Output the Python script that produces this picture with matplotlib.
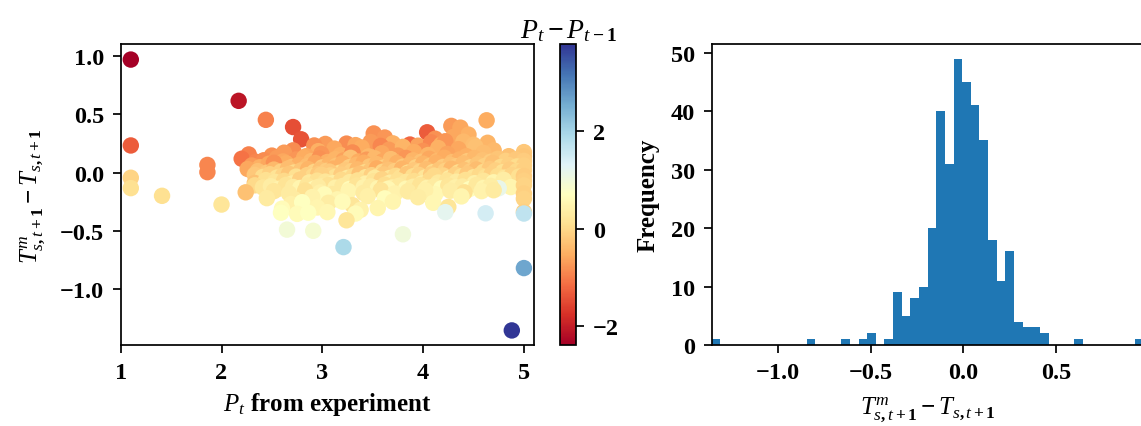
import numpy as np
import matplotlib.pyplot as plt

plt.rcParams['font.family'] = 'serif'
plt.rcParams['font.serif'] = ['Liberation Serif', 'DejaVu Serif']
plt.rcParams['font.weight'] = 'bold'
plt.rcParams['axes.labelweight'] = 'bold'
plt.rcParams['mathtext.fontset'] = 'custom'
plt.rcParams['mathtext.rm'] = 'Liberation Serif:weight=bold'
plt.rcParams['mathtext.it'] = 'Liberation Serif:style=italic:weight=normal'
plt.rcParams['mathtext.bf'] = 'Liberation Serif:weight=bold'

# P_t from experiment (one line per band of the error, top band first)
p_exp = [
    1.10,
    2.17,
    2.44, 4.63,
    2.71, 4.28, 4.37,
    4.04, 3.51, 4.45,
    2.79, 3.62, 4.12, 4.30,
    1.10, 3.24, 4.64, 3.87, 3.33, 3.48, 3.70, 3.95, 4.08, 4.18, 4.40, 4.50, 3.03, 2.92, 4.22, 3.58,
    2.71, 3.12, 3.39, 3.66, 3.80, 4.00, 4.15, 4.35, 4.52, 4.70, 2.96,
    2.27, 2.50, 2.62, 2.84, 2.99, 3.18, 3.30, 3.46, 3.59, 3.75, 3.91, 4.05, 4.24, 4.43, 4.60, 4.85, 5.00, 5.00,
    2.20, 2.34, 2.42, 2.55, 2.61, 2.74, 2.82, 2.89, 2.97, 3.05, 3.13, 3.21, 3.28, 3.36, 3.44, 3.52, 3.60, 3.68,
    3.76, 3.83, 3.90, 3.98, 4.06, 4.14, 4.21, 4.29, 4.36, 4.44, 4.51, 4.59, 4.67, 4.74, 4.82, 4.92, 5.00,
    1.86, 2.30, 2.38, 2.47, 2.56, 2.64, 2.70, 2.77, 2.85, 2.93, 3.00, 3.07, 3.14, 3.20, 3.27, 3.34, 3.41, 3.47,
    3.54, 3.61, 3.67, 3.74, 3.80, 3.87, 3.93, 4.00, 4.07, 4.13, 4.20, 4.27, 4.33, 4.40, 4.47, 4.54, 4.61, 4.69,
    4.77, 4.85, 4.93, 5.00, 2.52,
    1.86, 2.26, 2.36, 2.45, 2.52, 2.59, 2.66, 2.72, 2.79, 2.86, 2.92, 2.98, 3.04, 3.11, 3.17, 3.23, 3.29, 3.35,
    3.42, 3.48, 3.54, 3.60, 3.66, 3.72, 3.79, 3.85, 3.91, 3.97, 4.03, 4.10, 4.16, 4.22, 4.28, 4.35, 4.41, 4.47,
    4.53, 4.60, 4.66, 4.72, 4.79, 4.86, 4.93, 5.00, 3.07,
    1.10, 2.33, 2.41, 2.48, 2.55, 2.61, 2.67, 2.74, 2.80, 2.85, 2.91, 2.96, 3.02, 3.08, 3.13, 3.19, 3.25, 3.31,
    3.37, 3.43, 3.49, 3.55, 3.61, 3.67, 3.73, 3.78, 3.84, 3.90, 3.96, 4.02, 4.08, 4.14, 4.20, 4.26, 4.32, 4.38,
    4.44, 4.50, 4.56, 4.62, 4.68, 4.74, 4.81, 4.88, 4.95, 5.00, 3.52, 4.11, 2.99,
    2.33, 2.44, 2.53, 2.62, 2.70, 2.78, 2.87, 2.95, 3.03, 3.11, 3.19, 3.27, 3.35, 3.43, 3.51, 3.59, 3.67, 3.75,
    3.83, 3.91, 3.99, 4.07, 4.15, 4.24, 4.33, 4.42, 4.51, 4.60, 4.70, 4.80, 5.00,
    1.10, 4.87, 4.75, 2.33, 2.41, 2.49, 2.57, 2.64, 2.71, 2.78, 2.85, 2.92, 2.99, 3.06, 3.13, 3.20, 3.27, 3.34,
    3.41, 3.48, 3.55, 3.62, 3.69, 3.76, 3.83, 3.90, 3.97, 4.04, 4.11, 4.18, 4.25, 4.32, 4.39, 4.46, 4.53, 4.60,
    4.67, 5.00, 2.96, 3.65,
    2.24, 2.52, 2.67, 2.83, 2.98, 3.10, 3.26, 3.41, 3.58, 3.72, 3.85, 3.99, 4.12, 4.27, 4.41, 4.58, 4.70, 5.00,
    3.02, 4.02,
    1.41, 2.45, 2.90, 3.15, 3.45, 3.62, 3.95, 4.38, 5.00, 2.72,
    2.00, 2.69, 3.06, 3.30, 3.20, 3.70, 4.10, 2.80,
    2.60, 2.95, 3.38, 4.25, 3.55,
    2.59, 2.75, 2.86, 3.05, 3.33, 4.22, 5.00, 4.62, 5.00,
    3.24,
    2.65, 2.91,
    3.80,
    3.21,
    5.00,
    4.88,
]

# T^m_{s,t+1} - T_{s,t+1}
t_diff = [
    0.969,
    0.615,
    0.452, 0.448,
    0.390, 0.400, 0.385,
    0.345, 0.335, 0.325,
    0.285, 0.300, 0.290, 0.305,
    0.232, 0.248, 0.255, 0.240, 0.235, 0.262, 0.250, 0.230, 0.258, 0.240, 0.265, 0.238, 0.245, 0.232, 0.268, 0.228,
    0.190, 0.205, 0.215, 0.195, 0.220, 0.185, 0.210, 0.200, 0.220, 0.190, 0.183,
    0.155, 0.145, 0.170, 0.140, 0.160, 0.150, 0.172, 0.138, 0.165, 0.145, 0.175, 0.150, 0.160, 0.140, 0.168,
    0.140, 0.175, 0.138,
    0.118, 0.092, 0.105, 0.125, 0.095, 0.112, 0.128, 0.098, 0.120, 0.090, 0.115, 0.103, 0.126, 0.094, 0.110,
    0.122, 0.097, 0.115, 0.088, 0.125, 0.105, 0.092, 0.118, 0.100, 0.127, 0.090, 0.112, 0.098, 0.124, 0.106,
    0.092, 0.118, 0.100, 0.113, 0.100,
    0.065, 0.060, 0.045, 0.075, 0.052, 0.080, 0.048, 0.068, 0.056, 0.082, 0.044, 0.070, 0.058, 0.078, 0.046,
    0.066, 0.084, 0.052, 0.072, 0.042, 0.062, 0.080, 0.050, 0.068, 0.045, 0.076, 0.058, 0.083, 0.048, 0.066,
    0.054, 0.078, 0.044, 0.070, 0.056, 0.082, 0.048, 0.064, 0.052, 0.060, 0.083,
    0.003, 0.030, 0.012, -0.002, 0.025, 0.008, 0.034, 0.000, 0.018, 0.029, 0.005, 0.022, 0.014, 0.033, -0.003,
    0.020, 0.010, 0.027, 0.002, 0.016, 0.035, 0.007, 0.024, 0.013, 0.031, -0.001, 0.019, 0.009, 0.028, 0.004,
    0.023, 0.015, 0.032, 0.001, 0.021, 0.011, 0.026, 0.006, 0.030, 0.017, 0.003, 0.025, 0.012, 0.020, 0.008,
    -0.045, -0.020, -0.038, -0.015, -0.044, -0.027, -0.012, -0.035, -0.048, -0.022, -0.031, -0.014, -0.042,
    -0.025, -0.037, -0.018, -0.046, -0.029, -0.011, -0.040, -0.023, -0.034, -0.016, -0.047, -0.028, -0.039,
    -0.013, -0.032, -0.021, -0.043, -0.017, -0.036, -0.026, -0.049, -0.019, -0.033, -0.012, -0.041, -0.024,
    -0.038, -0.015, -0.030, -0.044, -0.022, -0.035, -0.030, -0.046, -0.028, -0.019,
    -0.090, -0.065, -0.080, -0.072, -0.094, -0.060, -0.085, -0.070, -0.078, -0.091, -0.062, -0.083, -0.068,
    -0.095, -0.075, -0.059, -0.088, -0.066, -0.081, -0.073, -0.093, -0.061, -0.086, -0.069, -0.079, -0.064,
    -0.092, -0.071, -0.084, -0.063, -0.070,
    -0.134, -0.125, -0.135, -0.110, -0.128, -0.118, -0.140, -0.106, -0.124, -0.133, -0.113, -0.138, -0.121,
    -0.108, -0.130, -0.116, -0.141, -0.111, -0.126, -0.119, -0.136, -0.105, -0.129, -0.114, -0.139, -0.122,
    -0.109, -0.131, -0.117, -0.137, -0.112, -0.127, -0.120, -0.142, -0.107, -0.132, -0.115, -0.110, -0.123,
    -0.140,
    -0.170, -0.160, -0.180, -0.155, -0.170, -0.185, -0.160, -0.175, -0.152, -0.180, -0.162, -0.172, -0.186,
    -0.156, -0.170, -0.160, -0.152, -0.180, -0.188, -0.152,
    -0.200, -0.220, -0.210, -0.230, -0.203, -0.222, -0.212, -0.205, -0.225, -0.228,
    -0.275, -0.270, -0.260, -0.280, -0.250, -0.250, -0.260, -0.255,
    -0.310, -0.300, -0.320, -0.295, -0.305,
    -0.345, -0.355, -0.345, -0.340, -0.352, -0.340, -0.338, -0.350, -0.352,
    -0.410,
    -0.490, -0.500,
    -0.530,
    -0.640,
    -0.820,
    -1.355,
]

# P_t - P_{t-1}
dp = [
    -2.38,
    -2.10,
    -0.95, -0.55,
    -1.45, -0.70, -0.60,
    -1.30, -0.80, -0.50,
    -1.40, -0.75, -0.80, -0.60,
    -1.30, -0.85, -0.45, -1.20, -0.60, -0.70, -0.50, -0.65, -0.90, -0.55, -0.40, -0.35, -0.70, -0.80, -0.75, -0.90,
    -0.85, -0.60, -0.55, -0.70, -0.45, -0.80, -0.50, -0.60, -0.30, -0.40, -0.50,
    -0.95, -0.80, -0.70, -0.60, -0.75, -0.50, -0.85, -0.40, -0.60, -0.70, -0.55, -0.45, -0.65, -0.50, -0.35,
    -0.30, -0.20, -0.25,
    -1.10, -0.90, -0.85, -0.70, -0.60, -0.75, -0.55, -0.40, -0.80, -0.50, -0.45, -0.65, -0.30, -0.55, -0.70,
    -0.40, -0.60, -0.35, -0.50, -0.75, -0.45, -0.30, -0.60, -0.40, -0.55, -0.35, -0.50, -0.20, -0.40, -0.30,
    -0.15, -0.25, -0.10, -0.20, -0.15,
    -0.90, -0.70, -0.50, -0.60, -0.45, -0.55, -0.30, -0.50, -0.35, -0.60, -0.20, -0.45, -0.30, -0.50, -0.15,
    -0.40, -0.55, -0.25, -0.40, -0.10, -0.35, -0.50, -0.20, -0.40, -0.10, -0.45, -0.25, -0.50, -0.15, -0.30,
    -0.20, -0.35, -0.05, -0.25, -0.10, -0.30, 0.00, -0.10, 0.05, -0.10, -0.80,
    -0.90, -0.60, -0.30, -0.20, -0.40, -0.10, -0.35, 0.00, -0.25, -0.45, -0.05, -0.30, -0.15, -0.50, 0.05,
    -0.20, -0.10, -0.40, 0.00, -0.25, -0.55, -0.05, -0.30, -0.15, -0.45, 0.10, -0.20, -0.05, -0.35, 0.00,
    -0.25, -0.10, -0.40, 0.05, -0.30, -0.15, -0.35, 0.00, -0.20, -0.10, 0.10, -0.15, 0.00, -0.10, -0.20,
    -0.05, -0.20, 0.05, -0.10, 0.15, -0.05, -0.25, 0.10, 0.20, -0.10, 0.00, -0.20, 0.15,
    -0.05, 0.10, -0.15, 0.25, 0.00, -0.30, 0.15, -0.10, 0.05, -0.20, 0.20, 0.00, 0.10,
    -0.25, 0.05, -0.10, 0.20, -0.15, 0.10, -0.05, 0.30, -0.10, 0.05, -0.20, 0.15, 0.00,
    0.10, -0.10, 0.05, 0.20, -0.05, 0.10, -0.15, 0.25, 0.00, -0.10,
    -0.30, 0.10, 0.20, 0.00, 0.30, -0.10, 0.25, 0.10, 0.20, 0.35, 0.00, 0.25, 0.10,
    0.40, 0.15, -0.05, 0.30, 0.10, 0.20, 0.05, 0.35, 0.00, 0.25, 0.15, 0.30, 0.10,
    0.40, 0.20, 0.50, 0.35, -0.10,
    0.10, 0.50, 1.15, 0.00, 0.20, 0.35, 0.45, 0.15, 0.30, 0.50, 0.20, 0.55, 0.35,
    0.10, 0.40, 0.25, 0.60, 0.15, 0.45, 0.30, 0.50, 0.05, 0.40, 0.25, 0.55, 0.35,
    0.15, 0.45, 0.30, 0.60, 0.20, 0.40, 0.30, 0.65, 0.25, 0.50, 0.35, -0.05, 0.30,
    0.55,
    -0.30, 0.20, 0.30, 0.10, 0.40, 0.25, 0.50, 0.30, 0.15, 0.45, 0.30, 0.20, 0.55,
    0.35, 0.10, 0.45, 0.30, -0.10, 0.60, 0.40,
    0.10, 0.30, 0.45, 0.50, 0.40, 0.65, 0.35, 0.50, -0.05, 0.30,
    0.20, 0.40, 0.35, 0.20, 0.60, 0.50, 0.55, 0.70,
    0.60, 0.50, 0.45, 0.20, 0.50,
    0.70, 0.60, 0.70, 0.55, 0.60, 1.20, -0.10, 1.45, 1.70,
    0.20,
    0.95, 0.90,
    1.00,
    1.90,
    2.60,
    3.77,
]

p_exp = np.array(p_exp)
t_diff = np.array(t_diff)
dp = np.array(dp)

fig = plt.figure(figsize=(11.41, 4.27), dpi=100)
ax1 = fig.add_axes([0.1058, 0.1897, 0.3622, 0.7042])
cax = fig.add_axes([0.4908, 0.1897, 0.0140, 0.7042])
ax2 = fig.add_axes([0.6238, 0.1897, 0.3784, 0.7042])

# scatter coloured by the change of P
sc = ax1.scatter(p_exp, t_diff, c=dp, cmap='RdYlBu', s=140, linewidths=0)
ax1.set_xlim(1, 5.1)
ax1.set_ylim(-1.48, 1.10)
ax1.set_xticks([1, 2, 3, 4, 5])
ax1.set_yticks([-1.0, -0.5, 0.0, 0.5, 1.0])
ax1.set_xlabel(r'$P_t$ from experiment', fontsize=18, labelpad=5)
ax1.set_ylabel(r'$T^m_{s,t+1} - T_{s,t+1}$', fontsize=18, labelpad=9)

cb = fig.colorbar(sc, cax=cax)
cb.set_ticks([-2, 0, 2])
cb.outline.set_linewidth(1.25)
cax.set_title(r'$P_t - P_{t-1}$', fontsize=20, pad=5)

# histogram of the same differences
counts, edges, _ = ax2.hist(t_diff, bins=50, color='#1f77b4')
ax2.set_xlim(edges[0], edges[-1])
ax2.set_yticks([0, 10, 20, 30, 40, 50])
ax2.set_xlabel(r'$T^m_{s,t+1} - T_{s,t+1}$', fontsize=18, labelpad=8)
ax2.set_ylabel('Frequency', fontsize=18, labelpad=8)

for ax in (ax1, ax2, cax):
    ax.tick_params(labelsize=17.5, length=6, width=1.25, pad=6)
for ax in (ax1, ax2):
    for sp in ax.spines.values():
        sp.set_linewidth(1.25)

fig.savefig('out.png', dpi=100)
